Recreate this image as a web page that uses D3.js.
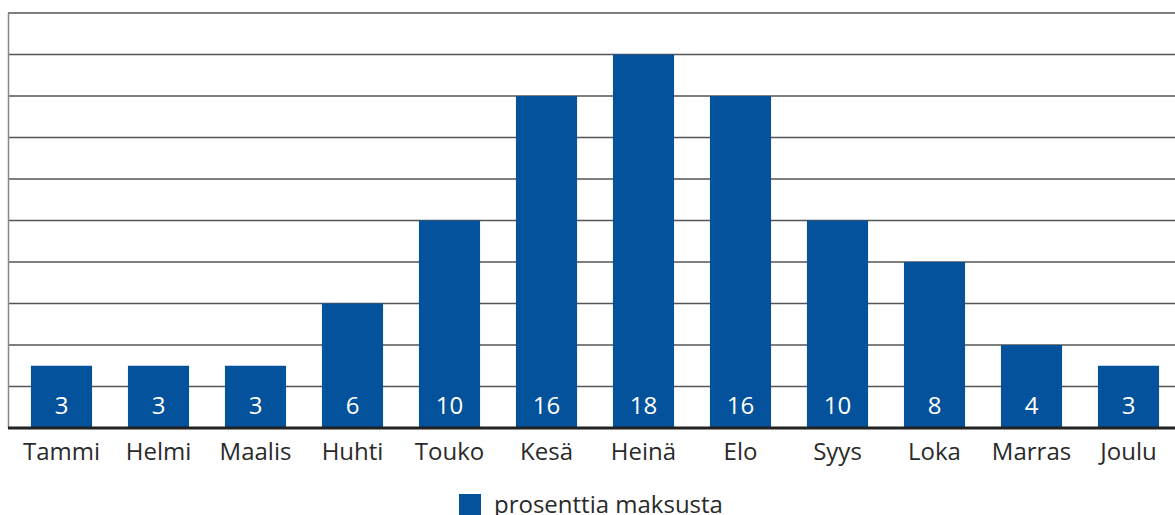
<!DOCTYPE html>
<html>
<head>
<meta charset="utf-8">
<script src="https://cdn.jsdelivr.net/npm/d3@7"></script>
<style>
  body { margin: 0; background: #fff; }
  svg { display: block; font-family: "Open Sans", Lato, sans-serif; }
</style>
</head>
<body>
<svg id="chart"></svg>
<script>
const months = ["Tammi", "Helmi", "Maalis", "Huhti", "Touko", "Kesä", "Heinä", "Elo", "Syys", "Loka", "Marras", "Joulu"];
const values = [3, 3, 3, 6, 10, 16, 18, 16, 10, 8, 4, 3];
const gridTicks = [2, 4, 6, 8, 10, 12, 14, 16, 18, 20];
const seriesName = "prosenttia maksusta";

const width = 1175, height = 515;
const barColor = "#03529b";

const svg = d3.select("#chart").attr("width", width).attr("height", height);

const x = d3.scaleBand().domain(months).range([13, 1177]).paddingInner(0.37).paddingOuter(0.185);
const y = d3.scaleLinear().domain([0, 20]).range([428, 13]);

// gridlines
svg.append("g")
  .selectAll("line")
  .data(gridTicks)
  .join("line")
  .attr("x1", 8)
  .attr("x2", width)
  .attr("y1", (d) => y(d))
  .attr("y2", (d) => y(d))
  .style("stroke", "#555")
  .style("stroke-width", 1.5);

// left axis line
svg.append("line")
  .attr("x1", 8.5).attr("x2", 8.5)
  .attr("y1", y(20)).attr("y2", y(0))
  .style("stroke", "#888")
  .style("stroke-width", 1.5);

// bars
svg.append("g")
  .selectAll("rect")
  .data(values)
  .join("rect")
  .attr("x", (d, i) => x(months[i]))
  .attr("width", x.bandwidth())
  .attr("y", (d) => y(d))
  .attr("height", (d) => y(0) - y(d))
  .style("fill", barColor);

// value labels
svg.append("g")
  .selectAll("text")
  .data(values)
  .join("text")
  .attr("x", (d, i) => x(months[i]) + x.bandwidth() / 2)
  .attr("y", 414)
  .attr("text-anchor", "middle")
  .style("font-size", "24px")
  .style("fill", "#fff")
  .text((d) => d);

// bottom axis
svg.append("line")
  .attr("x1", 8).attr("x2", width)
  .attr("y1", y(0)).attr("y2", y(0))
  .style("stroke", "#222")
  .style("stroke-width", 3);

// category labels
svg.append("g")
  .selectAll("text")
  .data(months)
  .join("text")
  .attr("x", (d) => x(d) + x.bandwidth() / 2)
  .attr("y", 460)
  .attr("text-anchor", "middle")
  .style("font-size", "24px")
  .style("fill", "#2a2a2a")
  .text((d) => d);

// legend
const legend = svg.append("g").attr("transform", "translate(459,494)");
legend.append("rect")
  .attr("width", 22).attr("height", 22)
  .style("fill", barColor);
legend.append("text")
  .attr("x", 35).attr("y", 19)
  .style("font-size", "24px")
  .style("fill", "#2a2a2a")
  .text(seriesName);
</script>
</body>
</html>
